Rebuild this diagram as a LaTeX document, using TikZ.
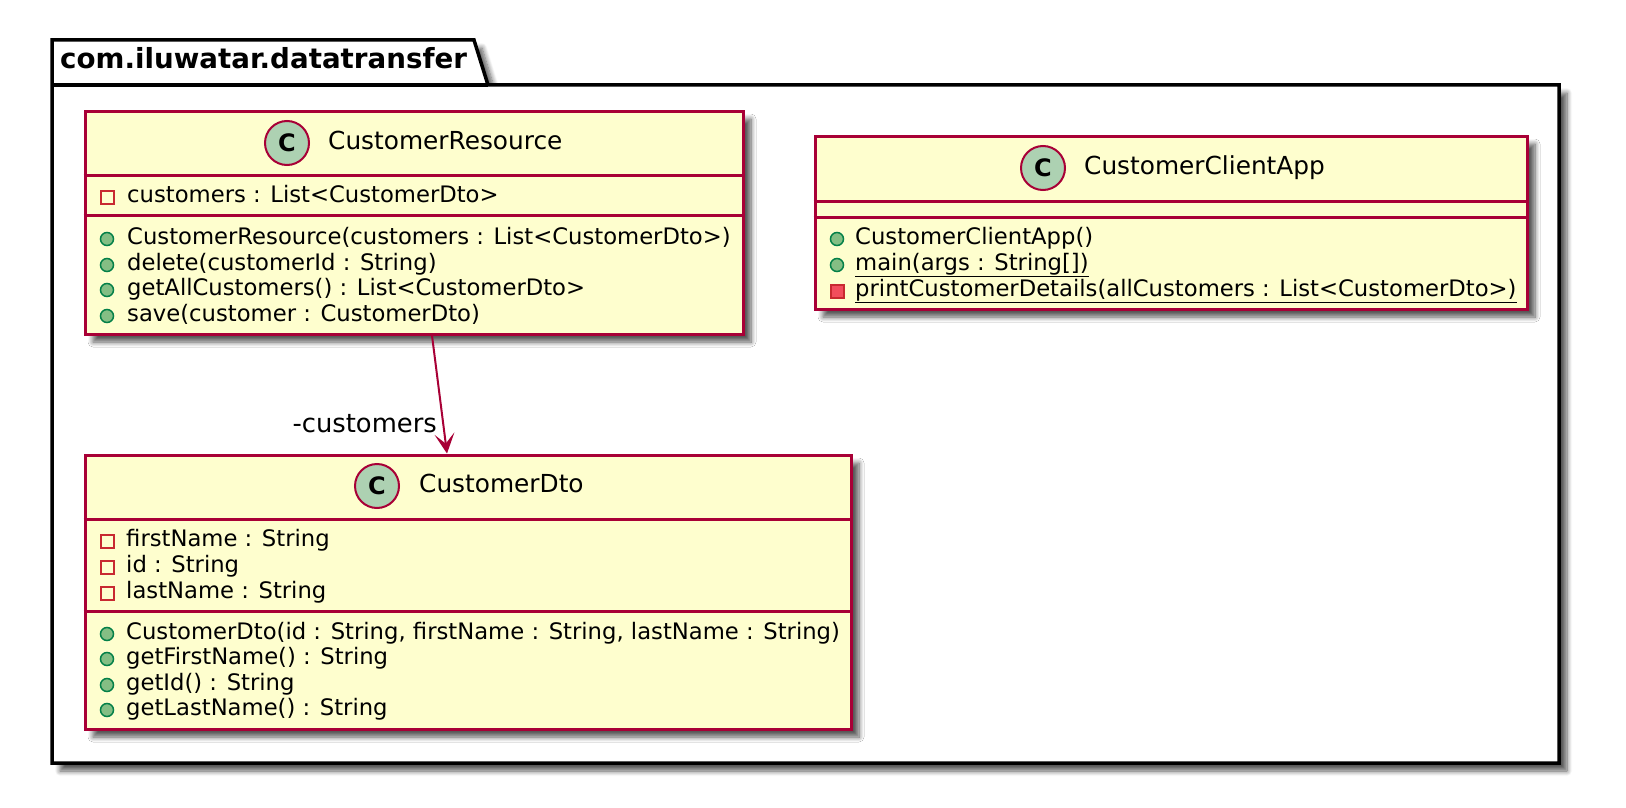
\documentclass[tikz,border=0pt]{standalone}
\usepackage{fontspec}
\setmainfont{DejaVu Sans}
\usetikzlibrary{arrows.meta,calc,shadows.blur}
\definecolor{umlline}{HTML}{A80036}
\definecolor{umlfill}{HTML}{FEFECE}
\definecolor{spotfill}{HTML}{ADD1B2}
\definecolor{publine}{HTML}{038048}
\definecolor{pubfill}{HTML}{84BE84}
\definecolor{privline}{HTML}{C82930}
\definecolor{privfill}{HTML}{F24D5C}
\tikzset{
  softshadow/.style={blur shadow={shadow xshift=8pt,shadow yshift=-8pt,shadow blur steps=8,shadow blur radius=5pt,shadow opacity=65}},
  classbox/.style={draw=umlline,fill=umlfill,line width=3pt,softshadow,inner sep=0pt},
  sepline/.style={draw=umlline,line width=3pt},
  spot/.style={circle,draw=umlline,fill=spotfill,line width=2pt,minimum size=44pt,inner sep=0pt,font=\fontsize{24}{24}\selectfont\bfseries},
  classname/.style={inner sep=0pt,anchor=west,text height=18pt,text depth=5pt,font=\fontsize{24.8}{24.8}\selectfont},
  member/.style={inner sep=0pt,anchor=west,text height=16pt,text depth=5pt,font=\fontsize{22.7}{22.7}\selectfont},
  pubicon/.style={circle,draw=publine,fill=pubfill,line width=1.5pt,minimum size=13pt,inner sep=0pt},
  privicon/.style={rectangle,draw=privline,fill=none,line width=2pt,minimum size=13pt,inner sep=0pt},
  privmethod/.style={privicon,fill=privfill},
  assoc/.style={draw=umlline,line width=2pt,-{Stealth[length=20pt,width=20pt,inset=10pt]}}
}
\begin{document}
\begin{tikzpicture}[x=1pt,y=-1pt]
\useasboundingbox(0,0)rectangle(1626,808);
% package
\draw[line width=3.5pt,fill=white,softshadow](52,40)--(474,40)--(488,85)--(1559,85)--(1559,763)--(52,763)--cycle;
\node[anchor=west,inner sep=0pt,text height=18pt,text depth=5pt,font=\fontsize{27.7}{27.7}\selectfont\bfseries](pkg)at(60,62){com.iluwatar.datatransfer};
\coordinate(pkgl)at(52,85);\coordinate(pkgr)at(488,85);
\draw[line width=3.5pt](pkgl)--(pkgr);
% CustomerResource
\node[classbox,minimum width=658,minimum height=223](cr)at(414,222.5){};
\node[spot](crspot)at(287,143){C};\node[classname](crname)at(328,143){CustomerResource};
\draw[sepline](cr.west|-0,175)--(cr.east|-0,175);\draw[sepline](cr.west|-0,215)--(cr.east|-0,215);
\node[privicon](cricon)at(107,197){};\node[member](crattr)at(127,197){customers : List<CustomerDto>};
\foreach\i/\y/\t in {1/239/CustomerResource(customers : List<CustomerDto>),2/265/delete(customerId : String),3/290/getAllCustomers() : List<CustomerDto>,4/316/save(customer : CustomerDto)}{
\node[pubicon](crmi\i)at(107,\y){};\node[member](crm\i)at(127,\y){\t};
}
% CustomerClientApp
\node[classbox,minimum width=712,minimum height=173](app)at(1171,222.5){};
\node[spot](appspot)at(1043,168){C};\node[classname](appname)at(1084,168){CustomerClientApp};
\draw[sepline](app.west|-0,201)--(app.east|-0,201);\draw[sepline](app.west|-0,217)--(app.east|-0,217);
\node[pubicon](appi1)at(837,239){};\node[member](appm1)at(855,239){CustomerClientApp()};
\node[pubicon](appi2)at(837,265){};\node[member](appm2)at(855,265){\underline{main(args : String[])}};
\node[privmethod](appi3)at(837,291){};\node[member](appm3)at(855,291){\underline{printCustomerDetails(allCustomers : List<CustomerDto>)}};
% CustomerDto
\node[classbox,minimum width=766,minimum height=274](dto)at(468,592){};
\node[spot](dtospot)at(377,486){C};\node[classname](dtoname)at(419,486){CustomerDto};
\draw[sepline](dto.west|-0,519)--(dto.east|-0,519);\draw[sepline](dto.west|-0,611)--(dto.east|-0,611);
\foreach\i/\y/\t in {1/541/firstName : String,2/567/id : String,3/593/lastName : String}{
\node[privicon](dtoai\i)at(107,\y){};\node[member](dtoa\i)at(126,\y){\t};
}
\foreach\i/\y/\t in {1/634/{CustomerDto(id : String, firstName : String, lastName : String)},2/659/getFirstName() : String,3/685/getId() : String,4/710/getLastName() : String}{
\node[pubicon](dtomi\i)at(107,\y){};\node[member](dtom\i)at(126,\y){\t};
}
% association
\draw[assoc]($(cr.south)+(18,0)$)--($(dto.north)+(-21,0)$);
\node[member,anchor=east,font=\fontsize{25.8}{25.8}\selectfont](rolelbl)at(437,427){-customers};
\end{tikzpicture}
\end{document}
